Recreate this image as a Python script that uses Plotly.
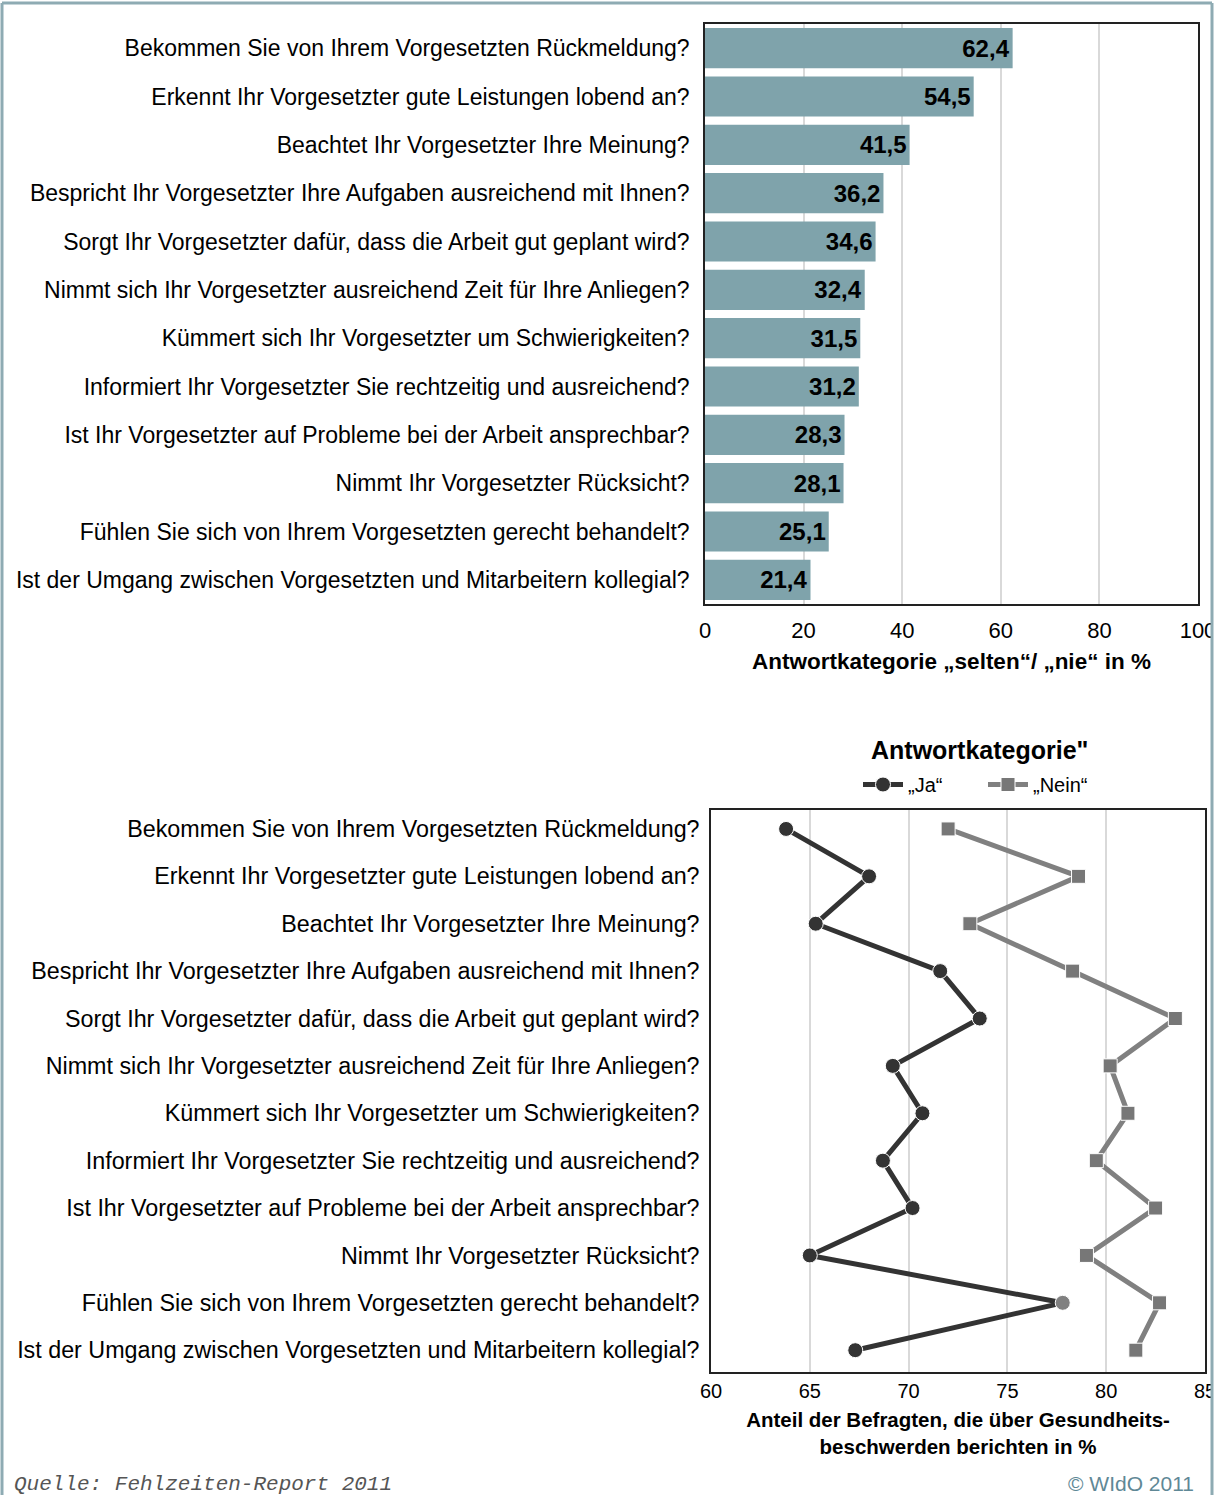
import plotly.graph_objects as go

W, H = 1224, 1495

questions = [
    "Bekommen Sie von Ihrem Vorgesetzten Rückmeldung?",
    "Erkennt Ihr Vorgesetzter gute Leistungen lobend an?",
    "Beachtet Ihr Vorgesetzter Ihre Meinung?",
    "Bespricht Ihr Vorgesetzter Ihre Aufgaben ausreichend mit Ihnen?",
    "Sorgt Ihr Vorgesetzter dafür, dass die Arbeit gut geplant wird?",
    "Nimmt sich Ihr Vorgesetzter ausreichend Zeit für Ihre Anliegen?",
    "Kümmert sich Ihr Vorgesetzter um Schwierigkeiten?",
    "Informiert Ihr Vorgesetzter Sie rechtzeitig und ausreichend?",
    "Ist Ihr Vorgesetzter auf Probleme bei der Arbeit ansprechbar?",
    "Nimmt Ihr Vorgesetzter Rücksicht?",
    "Fühlen Sie sich von Ihrem Vorgesetzten gerecht behandelt?",
    "Ist der Umgang zwischen Vorgesetzten und Mitarbeitern kollegial?",
]
selten_nie = [62.4, 54.5, 41.5, 36.2, 34.6, 32.4, 31.5, 31.2, 28.3, 28.1, 25.1, 21.4]
ja = [63.8, 68.0, 65.3, 71.6, 73.6, 69.2, 70.7, 68.7, 70.2, 65.0, 77.8, 67.3]
nein = [72.0, 78.6, 73.1, 78.3, 83.5, 80.2, 81.1, 79.5, 82.5, 79.0, 82.7, 81.5]
top_ticks = [0, 20, 40, 60, 80, 100]
bottom_ticks = [60, 65, 70, 75, 80, 85]

FONT = "Liberation Sans, Arial, sans-serif"

def px(x):
    return x / W

def py(y):
    return 1 - y / H

fig = go.Figure()

fig.add_trace(go.Bar(
    x=selten_nie, y=questions, orientation="h",
    marker=dict(color="#7fa3ab", line=dict(width=0)),
    text=selten_nie, texttemplate="%{x:.1f}",
    textposition="inside", insidetextanchor="end",
    textfont=dict(family=FONT, size=24, color="#000000", weight="bold"),
    xaxis="x", yaxis="y", showlegend=False, cliponaxis=False,
))

ja_colors = ["#333333"] * len(ja)
ja_colors[10] = "#808080"

fig.add_trace(go.Scatter(
    x=ja, y=questions, mode="lines+markers", name="„Ja“",
    line=dict(color="#333333", width=5),
    marker=dict(symbol="circle", size=15, color=ja_colors,
                line=dict(color="#ffffff", width=1)),
    xaxis="x2", yaxis="y2", cliponaxis=False,
))
fig.add_trace(go.Scatter(
    x=nein, y=questions, mode="lines+markers", name="„Nein“",
    line=dict(color="#808080", width=5),
    marker=dict(symbol="square", size=14, color="#777777",
                line=dict(color="#ffffff", width=1)),
    xaxis="x2", yaxis="y2", cliponaxis=False,
))

frame = dict(showline=True, linecolor="#222222", linewidth=1.5, mirror=True, automargin=False)

fig.update_layout(
    width=W, height=H,
    margin=dict(l=0, r=0, t=0, b=0, autoexpand=False),
    paper_bgcolor="#ffffff", plot_bgcolor="#ffffff",
    separators=",.",
    font=dict(family=FONT, color="#000000"),
    bargap=0.17,
    xaxis=dict(domain=[px(705), px(1198)], range=[0, 100], tickvals=top_ticks,
               showgrid=True, gridcolor="#d9d9d9", gridwidth=1.5, zeroline=False,
               tickfont=dict(size=22), ticks="", ticklabelstandoff=6,
               title=dict(text="<b>Antwortkategorie „selten“/ „nie“ in %</b>",
                          font=dict(size=22.5), standoff=11),
               anchor="y", **frame),
    yaxis=dict(domain=[py(604), py(24)], autorange="reversed",
               tickfont=dict(size=23), ticks="", ticklabelstandoff=9,
               showgrid=False, anchor="x", **frame),
    xaxis2=dict(domain=[px(711), px(1205)], range=[60, 85], tickvals=bottom_ticks,
                showgrid=True, gridcolor="#d9d9d9", gridwidth=1.5, zeroline=False,
                tickfont=dict(size=20), ticks="", ticklabelstandoff=0,
                title=dict(text="<b>Anteil der Befragten, die über Gesundheits-<br>beschwerden berichten in %</b>",
                           font=dict(size=20.5), standoff=12),
                anchor="y2", **frame),
    yaxis2=dict(domain=[py(1372), py(810)], range=[11.46, -0.4],
                tickfont=dict(size=23.3), ticks="", ticklabelstandoff=5,
                showgrid=False, anchor="x2", **frame),
    legend=dict(orientation="h", x=px(858), y=py(765), xanchor="left", yanchor="top",
                font=dict(size=20), itemwidth=40, bgcolor="rgba(0,0,0,0)",
                entrywidth=70, entrywidthmode="pixels", tracegroupgap=0),
)

fig.add_annotation(text="<b>Antwortkategorie\"</b>", xref="paper", yref="paper",
                   x=px(979), y=py(750), xanchor="center", yanchor="middle",
                   showarrow=False, font=dict(size=25))
fig.add_annotation(text="<i>Quelle: Fehlzeiten-Report 2011</i>", xref="paper", yref="paper",
                   x=px(12), y=py(1484), xanchor="left", yanchor="middle",
                   showarrow=False, font=dict(family="Liberation Mono, Courier New, monospace",
                                              size=21, color="#555555"))
fig.add_annotation(text="© WIdO 2011", xref="paper", yref="paper",
                   x=px(1196), y=py(1483), xanchor="right", yanchor="middle",
                   showarrow=False, font=dict(size=21, color="#5f8896"))

border = "#8eabb3"
fig.add_shape(type="rect", xref="paper", yref="paper", x0=px(1213), x1=1, y0=0, y1=1,
              fillcolor="#ffffff", line=dict(width=0), layer="above")
fig.add_shape(type="line", xref="paper", yref="paper", x0=px(2), x1=px(1212), y0=py(3), y1=py(3),
              line=dict(color=border, width=3), layer="above")
fig.add_shape(type="line", xref="paper", yref="paper", x0=px(2), x1=px(2), y0=0, y1=py(3),
              line=dict(color=border, width=3), layer="above")
fig.add_shape(type="line", xref="paper", yref="paper", x0=px(1212), x1=px(1212), y0=0, y1=py(3),
              line=dict(color=border, width=3), layer="above")

fig.write_html("out.html",
               config={"displayModeBar": False, "displaylogo": False},
               post_script="document.body.style.margin='0px';document.body.style.overflow='hidden';")
